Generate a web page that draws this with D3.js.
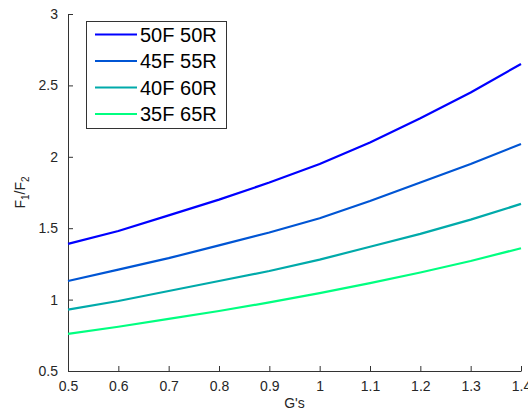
<!DOCTYPE html>
<html>
<head>
<meta charset="utf-8">
<script src="https://cdn.jsdelivr.net/npm/d3@7/dist/d3.min.js"></script>
<style>
  html, body { margin: 0; padding: 0; background: #fff; }
  svg { display: block; font-family: "Liberation Sans", Arial, sans-serif; }
</style>
</head>
<body>
<svg id="chart" width="528" height="412"></svg>
<script>
// G loading values along the x axis
const gValues = [0.5, 0.6, 0.7, 0.8, 0.9, 1.0, 1.1, 1.2, 1.3, 1.4];

// Force ratio F1/F2 for each front/rear weight split
const ratio50F50R = [1.39, 1.48, 1.59, 1.70, 1.82, 1.95, 2.10, 2.27, 2.45, 2.65];
const ratio45F55R = [1.13, 1.21, 1.29, 1.38, 1.47, 1.57, 1.69, 1.82, 1.95, 2.09];
const ratio40F60R = [0.93, 0.99, 1.06, 1.13, 1.20, 1.28, 1.37, 1.46, 1.56, 1.67];
const ratio35F65R = [0.76, 0.81, 0.865, 0.92, 0.98, 1.045, 1.115, 1.19, 1.27, 1.36];

const seriesNames = ["50F 50R", "45F 55R", "40F 60R", "35F 65R"];
const seriesColors = ["#0000ff", "#0055d4", "#00aaaa", "#00ff80"];

const xTicks = [0.5, 0.6, 0.7, 0.8, 0.9, 1.0, 1.1, 1.2, 1.3, 1.4];
const yTicks = [0.5, 1, 1.5, 2, 2.5, 3];

const series = [ratio50F50R, ratio45F55R, ratio40F60R, ratio35F65R].map((vals, i) => ({
  name: seriesNames[i],
  color: seriesColors[i],
  points: vals.map((v, j) => ({ g: gValues[j], r: v }))
}));

const svg = d3.select("#chart");
const plot = { left: 68, right: 521, top: 14, bottom: 371 };

const x = d3.scaleLinear().domain([0.5, 1.4]).range([plot.left, plot.right]);
const y = d3.scaleLinear().domain([0.5, 3]).range([plot.bottom, plot.top]);

const axisColor = "#333";
const textColor = "#262626";

// x axis: ticks point into the plot area
const xAxis = svg.append("g")
  .attr("transform", `translate(0,${plot.bottom})`)
  .call(d3.axisBottom(x).tickValues(xTicks).tickSizeInner(-5).tickSizeOuter(0)
    .tickPadding(10).tickFormat(d3.format("~g")));
xAxis.select(".domain").attr("stroke", axisColor);
xAxis.selectAll(".tick line").attr("stroke", axisColor);
xAxis.selectAll(".tick text").attr("fill", textColor).attr("font-size", 14)
  .attr("font-family", "Liberation Sans, Arial, sans-serif");

// y axis: ticks point into the plot area
const yAxis = svg.append("g")
  .attr("transform", `translate(${plot.left},0)`)
  .call(d3.axisLeft(y).tickValues(yTicks).tickSizeInner(-5).tickSizeOuter(0)
    .tickPadding(10).tickFormat(d3.format("~g")));
yAxis.select(".domain").attr("stroke", axisColor);
yAxis.selectAll(".tick line").attr("stroke", axisColor);
yAxis.selectAll(".tick text").attr("fill", textColor).attr("font-size", 14)
  .attr("font-family", "Liberation Sans, Arial, sans-serif");

// data lines
const line = d3.line().x(d => x(d.g)).y(d => y(d.r));
svg.append("g").selectAll("path")
  .data(series)
  .join("path")
  .attr("d", d => line(d.points))
  .attr("fill", "none")
  .attr("stroke", d => d.color)
  .attr("stroke-width", 2.2)
  .attr("stroke-linejoin", "round");

// axis titles
svg.append("text")
  .attr("x", (plot.left + plot.right) / 2)
  .attr("y", 408)
  .attr("text-anchor", "middle")
  .attr("font-size", 14)
  .attr("fill", textColor)
  .text("G's");

const yTitle = svg.append("text")
  .attr("transform", `translate(25,${(plot.top + plot.bottom) / 2}) rotate(-90)`)
  .attr("text-anchor", "middle")
  .attr("font-size", 14)
  .attr("fill", textColor);
yTitle.append("tspan").text("F");
yTitle.append("tspan").attr("font-size", 10).attr("dy", 4).text("1");
yTitle.append("tspan").attr("dy", -4).text("/F");
yTitle.append("tspan").attr("font-size", 10).attr("dy", 4).text("2");

// legend
const legend = svg.append("g");
legend.append("rect")
  .attr("x", 86.5).attr("y", 21.5)
  .attr("width", 140).attr("height", 107)
  .attr("fill", "#fff")
  .attr("stroke", axisColor)
  .attr("stroke-width", 1);

const rowY = d3.scaleLinear().domain([0, 3]).range([34.5, 114]);
const rows = legend.selectAll("g.row")
  .data(series)
  .join("g")
  .attr("class", "row")
  .attr("transform", (d, i) => `translate(0,${rowY(i)})`);
rows.append("line")
  .attr("x1", 95).attr("x2", 137)
  .attr("stroke", d => d.color)
  .attr("stroke-width", 2.2);
rows.append("text")
  .attr("x", 140)
  .attr("y", 7)
  .attr("font-size", 20)
  .attr("fill", "#000")
  .text(d => d.name);
</script>
</body>
</html>
